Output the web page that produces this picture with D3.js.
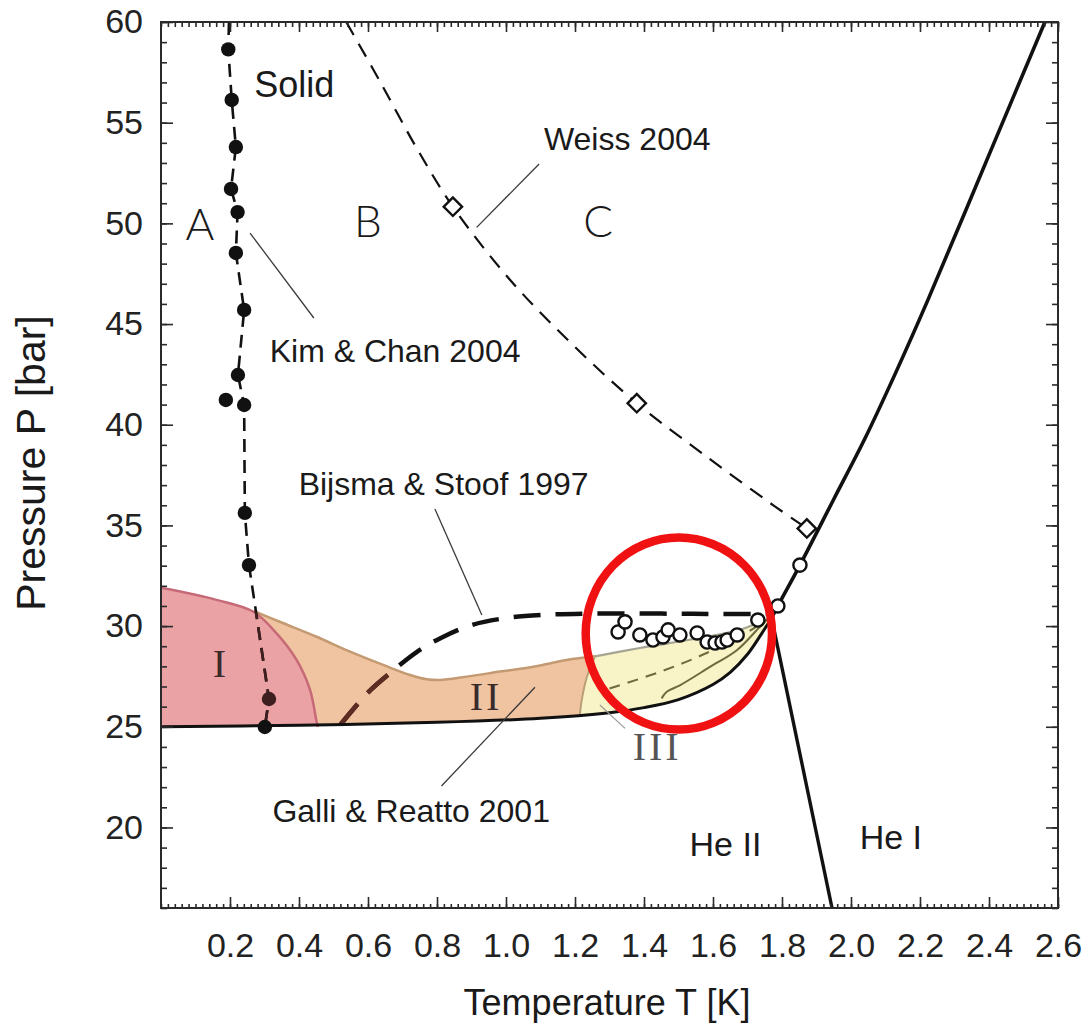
<!DOCTYPE html>
<html><head><meta charset="utf-8">
<script src="https://cdn.jsdelivr.net/npm/d3@7"></script>
<style>
html,body{margin:0;padding:0;background:#fff;}
svg{display:block;}
</style></head><body>
<svg id="chart" width="1086" height="1028"></svg>
<script>
// ---- data (T in kelvin, P in bar) ----
const xTicks = [0.2, 0.4, 0.6, 0.8, 1.0, 1.2, 1.4, 1.6, 1.8, 2.0, 2.2, 2.4, 2.6];
const yTicks = [20, 25, 30, 35, 40, 45, 50, 55, 60];

// Kim & Chan 2004 torsional-oscillator points and their boundary
const kimChanPoints = [[0.195,58.64],[0.205,56.13],[0.217,53.79],[0.203,51.71],[0.222,50.56],[0.217,48.53],
  [0.241,45.70],[0.223,42.47],[0.188,41.23],[0.241,40.98],[0.243,35.62],[0.255,33.03],[0.313,26.38],[0.301,24.99]];
const kimChanLine = [[0.197,60],[0.195,58.64],[0.205,56.13],[0.217,53.79],[0.203,51.71],[0.222,50.56],[0.217,48.53],
  [0.241,45.70],[0.223,42.47],[0.241,40.98],[0.243,35.62],[0.255,33.03],[0.313,26.38],[0.301,24.99]];

// Weiss 2004
const weissPoints = [[0.846,50.83],[1.379,41.07],[1.872,34.85]];
const weissLine = [[0.537,60],[0.635,57.04],[0.741,53.74],[0.846,50.83],[1.012,47.19],[1.194,43.96],
  [1.379,41.07],[1.582,38.41],[1.774,36.01],[1.872,34.85]];

// Bijsma & Stoof 1997
const bijsmaLine = [[0.52,25.1],[0.6,26.7],[0.67,27.75],[0.74,28.7],[0.81,29.4],[0.9,30.05],[1.0,30.4],
  [1.1,30.55],[1.25,30.62],[1.45,30.62],[1.6,30.6],[1.76,30.6]];

// open circles near the lambda point and along the melting curve
const openPoints = [[1.325,29.71],[1.345,30.21],[1.388,29.56],[1.426,29.31],[1.455,29.46],[1.47,29.81],[1.504,29.56],
  [1.554,29.66],[1.583,29.21],[1.606,29.16],[1.626,29.21],[1.641,29.31],[1.67,29.56],[1.73,30.30],
  [1.788,31.0],[1.852,33.03]];

// phase boundaries
const meltLine = [[0,25.0],[0.4,25.08],[0.8,25.22],[1.1,25.42],[1.3,25.7],[1.4,25.95],[1.5,26.35],
  [1.6,27.1],[1.65,27.7],[1.7,28.6],[1.74,29.6],[1.77,30.4]];
const upperMeltLine = [[1.77,30.4],[1.788,31.0],[1.852,33.03],[1.95,36.3],[2.04,39.3],[2.13,42.6],
  [2.223,46.2],[2.40,53.4],[2.562,60]];
const lambdaLine = [[1.77,30.4],[1.945,16]];

// Galli & Reatto 2001 regions I, II, III
const regionITop = [[0,31.9],[0.161,31.3],[0.268,30.71],[0.335,29.64],[0.393,28.32],[0.432,26.83],[0.451,25.25],[0.455,25.0]];
const regionIITop = [[0,31.9],[0.161,31.3],[0.268,30.75],[0.355,30.14],[0.451,29.47],[0.548,28.73],[0.644,28.07],
  [0.722,27.57],[0.77,27.36],[0.809,27.32],[0.886,27.49],[0.983,27.74],[1.079,27.98],[1.176,28.32],[1.258,28.5]];
const regionIIILeft = [[1.258,28.5],[1.234,27.45],[1.219,26.27],[1.214,25.55]];
const regionIIITop = [[1.765,30.35],[1.751,30.3],[1.678,29.81],[1.562,29.41],[1.388,28.91],[1.258,28.5]];
const regionIIIInner = [[1.451,26.41],[1.466,26.74],[1.504,27.06],[1.591,27.97],[1.669,28.8],[1.736,29.97],[1.76,30.38]];
const regionIIIDashed = [[1.30,26.9],[1.45,27.75],[1.58,28.65],[1.70,29.7],[1.75,30.25]];

// annotation leaders [from, to]
const leaders = [
  [[0.915,49.8],[1.096,52.95]],
  [[0.258,49.52],[0.443,45.3]],
  [[0.794,35.81],[0.930,30.55]],
  [[0.813,22.06],[1.084,26.96]]
];
const leaderIII = [[1.272,26.08],[1.345,24.92]];

const labels = [
  {text:"Solid", at:[0.27,56.29], size:36},
  {text:"Weiss 2004", at:[1.11,53.64], size:32},
  {text:"Kim & Chan 2004", at:[0.315,43.11], size:32},
  {text:"Bijsma & Stoof 1997", at:[0.399,36.51], size:32},
  {text:"Galli & Reatto 2001", at:[0.323,20.27], size:32},
  {text:"He II", at:[1.532,18.58], size:34},
  {text:"He I", at:[2.025,18.93], size:34}
];
const phaseLetters = [{text:"A", at:[0.113,49.17]},{text:"B", at:[0.6,49.32]},{text:"C", at:[1.267,49.32]}];
const romanLabels = [{text:"I", at:[0.174,27.47]},{text:"II", at:[0.942,25.83]},{text:"III", at:[1.438,23.35], light:true}];
const highlight = {center:[1.501,29.63], rT:0.27, rP:4.77};

// ---- scales ----
const svg = d3.select("#chart");
const x = d3.scaleLinear().domain([0, 2.6]).range([161, 1058]);
const y = d3.scaleLinear().domain([16, 60]).range([908, 22]);
const X = p => x(p[0]), Y = p => y(p[1]);
const lin = d3.line().x(X).y(Y);
const smooth = d3.line().x(X).y(Y).curve(d3.curveCatmullRom.alpha(0.5));

function meltBetween(t0, t1) {
  const f = t => { const i = d3.bisector(d => d[0]).left(meltLine, t);
    if (i <= 0) return meltLine[0][1]; if (i >= meltLine.length) return meltLine[meltLine.length-1][1];
    const a = meltLine[i-1], b = meltLine[i]; return a[1] + (b[1]-a[1])*(t-a[0])/(b[0]-a[0]); };
  return [[t0, f(t0)], ...meltLine.filter(d => d[0] > t0 && d[0] < t1), [t1, f(t1)]];
}
function ring(segs) {
  return segs.map((s, i) => { const d = s.gen(s.pts); return i ? "L" + d.slice(1) : d; }).join("") + "Z";
}

const defs = svg.append("defs");
defs.append("clipPath").attr("id","plot").append("rect").attr("x",161).attr("y",22).attr("width",897).attr("height",886);

const regionIPath = ring([{pts:regionITop, gen:smooth}, {pts:meltBetween(0,0.455).reverse(), gen:lin}]);
const regionIIPath = ring([{pts:regionIITop, gen:smooth}, {pts:regionIIILeft, gen:smooth}, {pts:meltBetween(0,1.214).reverse(), gen:lin}]);
const regionIIIPath = ring([{pts:regionIIILeft, gen:smooth}, {pts:meltBetween(1.214,1.765), gen:smooth}, {pts:regionIIITop, gen:smooth}]);

defs.append("clipPath").attr("id","regions12").selectAll("path").data([regionIIPath, regionIPath]).join("path").attr("d", d => d);

const plot = svg.append("g").attr("clip-path","url(#plot)");

// region fills
plot.append("path").attr("d", regionIIPath).attr("fill","#f0c3a1");
plot.append("path").attr("d", regionIPath).attr("fill","#eaa2a5");
plot.append("path").attr("d", regionIIIPath).attr("fill","#f8f4c7");

// region borders
plot.append("path").attr("d", smooth(regionIITop.slice(2))).attr("fill","none").attr("stroke","#c39a72").attr("stroke-width",2.5);
plot.append("path").attr("d", smooth(regionITop)).attr("fill","none").attr("stroke","#c66a77").attr("stroke-width",2.5);
plot.append("path").attr("d", smooth(regionIIILeft)).attr("fill","none").attr("stroke","#b9a077").attr("stroke-width",2);
plot.append("path").attr("d", smooth(regionIIITop)).attr("fill","none").attr("stroke","#a6a493").attr("stroke-width",2.2);
plot.append("path").attr("d", smooth(regionIIIInner)).attr("fill","none").attr("stroke","#6d6a3c").attr("stroke-width",2);
plot.append("path").attr("d", smooth(regionIIIDashed)).attr("fill","none").attr("stroke","#6d6a3c").attr("stroke-width",2).attr("stroke-dasharray","11 8");

// dashed boundaries
const bijsma = plot.append("path").attr("d", smooth(bijsmaLine)).attr("fill","none").attr("stroke","#111")
  .attr("stroke-width",4.5).attr("stroke-dasharray","27 15");
plot.append("path").attr("d", lin(kimChanLine)).attr("fill","none").attr("stroke","#111")
  .attr("stroke-width",2.6).attr("stroke-dasharray","13 8");
plot.append("path").attr("d", smooth(weissLine)).attr("fill","none").attr("stroke","#111")
  .attr("stroke-width",2.2).attr("stroke-dasharray","15 10");

// the same lines seen through the tinted regions
const tinted = plot.append("g").attr("clip-path","url(#regions12)");
tinted.append("path").attr("d", smooth(bijsmaLine)).attr("fill","none").attr("stroke","#5e2c22")
  .attr("stroke-width",4.6).attr("stroke-dasharray","27 15");
tinted.append("path").attr("d", lin(kimChanLine)).attr("fill","none").attr("stroke","#3e1e1e")
  .attr("stroke-width",2.7).attr("stroke-dasharray","13 8");

// solid phase lines
plot.append("path").attr("d", smooth(meltLine)).attr("fill","none").attr("stroke","#111").attr("stroke-width",3);
plot.append("path").attr("d", smooth(upperMeltLine)).attr("fill","none").attr("stroke","#111").attr("stroke-width",3.6);
plot.append("path").attr("d", lin(lambdaLine)).attr("fill","none").attr("stroke","#111").attr("stroke-width",3.4);

// markers
plot.selectAll(".kc").data(kimChanPoints).join("circle").attr("class","kc")
  .attr("cx", X).attr("cy", Y).attr("r", 7.2)
  .attr("fill", d => (d[1] > 25.6 && d[1] < 31) ? "#3e1f1f" : "#111");
plot.selectAll(".ws").data(weissPoints).join("rect").attr("class","ws")
  .attr("x",-6.5).attr("y",-6.5).attr("width",13).attr("height",13)
  .attr("transform", d => `translate(${X(d)},${Y(d)}) rotate(45)`)
  .attr("fill","#fff").attr("stroke","#111").attr("stroke-width",2.4);
plot.selectAll(".op").data(openPoints).join("circle").attr("class","op")
  .attr("cx", X).attr("cy", Y).attr("r", 6.6)
  .attr("fill","#fff").attr("stroke","#111").attr("stroke-width",2.4);

// leaders
plot.selectAll(".ld").data(leaders).join("path").attr("class","ld").attr("d", d => lin(d))
  .attr("stroke","#3a3a3a").attr("stroke-width",1.3).attr("fill","none");
plot.append("path").attr("d", lin(leaderIII)).attr("stroke","#9a9a9a").attr("stroke-width",1.2).attr("fill","none");

// text annotations
svg.selectAll(".lbl").data(labels).join("text").attr("class","lbl")
  .attr("x", d => X(d.at)).attr("y", d => Y(d.at)).text(d => d.text)
  .attr("font-family","'Liberation Sans', Arial, sans-serif").attr("font-size", d => d.size).attr("fill","#1a1a1a");
svg.selectAll(".ph").data(phaseLetters).join("text").attr("class","ph")
  .attr("x", d => X(d.at)).attr("y", d => Y(d.at)).attr("text-anchor","middle").text(d => d.text)
  .attr("font-family","Lato, 'Open Sans', sans-serif").attr("font-weight",300).attr("font-size",44).attr("fill","#1a1a1a");
svg.selectAll(".rn").data(romanLabels).join("text").attr("class","rn")
  .attr("x", d => X(d.at)).attr("y", d => Y(d.at)).attr("text-anchor","middle").text(d => d.text)
  .attr("font-family","'Liberation Serif', 'Times New Roman', serif").attr("font-size",40)
  .attr("letter-spacing", 3)
  .attr("fill", d => d.light ? "#555" : "#3a2a2a");

// highlight ring
svg.append("ellipse").attr("cx", x(highlight.center[0])).attr("cy", y(highlight.center[1]))
  .attr("rx", x(highlight.rT) - x(0)).attr("ry", y(0) - y(highlight.rP))
  .attr("fill","none").attr("stroke","#f01212").attr("stroke-width",8.5);

// ---- axes ----
const minorX = d3.range(0, 131).map(i => i / 50);
const minorY = d3.range(16, 61);
const tickStyle = g => { g.select(".domain").remove(); g.selectAll(".tick line").attr("stroke","#2a2a2a").attr("stroke-width",1.6); };
const font = "'Liberation Sans', Arial, sans-serif";

svg.append("g").attr("transform","translate(0,908)")
  .call(d3.axisBottom(x).tickValues(minorX).tickSize(-4).tickFormat("")).call(tickStyle);
svg.append("g").attr("transform","translate(0,908)")
  .call(d3.axisBottom(x).tickValues(xTicks).tickSize(-11).tickPadding(25).tickFormat(d3.format(".1f")))
  .call(tickStyle)
  .call(g => g.selectAll("text").attr("font-family",font).attr("font-size",34).attr("fill","#222"));
svg.append("g").attr("transform","translate(0,22)")
  .call(d3.axisTop(x).tickValues(minorX).tickSize(-5).tickFormat("")).call(tickStyle);
svg.append("g").attr("transform","translate(0,22)")
  .call(d3.axisTop(x).tickValues(xTicks).tickSize(-10).tickFormat("")).call(tickStyle);

svg.append("g").attr("transform","translate(161,0)")
  .call(d3.axisLeft(y).tickValues(minorY).tickSize(-6).tickFormat("")).call(tickStyle);
svg.append("g").attr("transform","translate(161,0)")
  .call(d3.axisLeft(y).tickValues(yTicks).tickSize(-12).tickPadding(18).tickFormat(d3.format("d")))
  .call(tickStyle)
  .call(g => g.selectAll("text").attr("font-family",font).attr("font-size",34).attr("fill","#222"));
svg.append("g").attr("transform","translate(1058,0)")
  .call(d3.axisRight(y).tickValues(minorY).tickSize(-6).tickFormat("")).call(tickStyle);
svg.append("g").attr("transform","translate(1058,0)")
  .call(d3.axisRight(y).tickValues(yTicks).tickSize(-12).tickFormat("")).call(tickStyle);

svg.append("rect").attr("x",161).attr("y",22).attr("width",897).attr("height",886)
  .attr("fill","none").attr("stroke","#2a2a2a").attr("stroke-width",2);

// axis titles
svg.append("text").attr("x", 607).attr("y", 1015).attr("text-anchor","middle")
  .attr("font-family",font).attr("font-size",36).attr("fill","#1a1a1a").text("Temperature T [K]");
svg.append("text").attr("transform","translate(45,463) rotate(-90)").attr("text-anchor","middle")
  .attr("font-family",font).attr("font-size",41).attr("fill","#1a1a1a").text("Pressure P [bar]");
</script></body></html>
